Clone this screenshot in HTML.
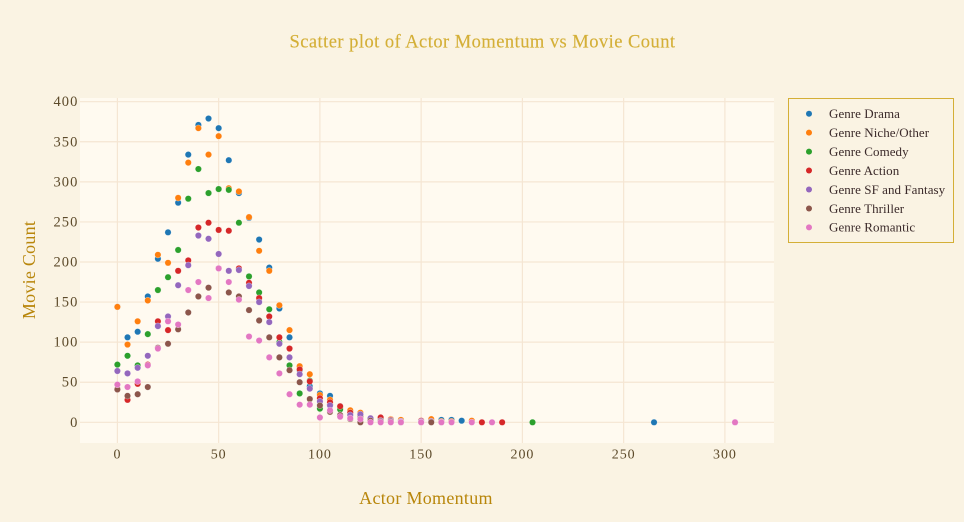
<!DOCTYPE html>
<html lang="en">
<head>
<meta charset="utf-8">
<title>Scatter plot of Actor Momentum vs Movie Count</title>
<style>
  html, body { margin: 0; padding: 0; background: #faf3e3; }
  #chart { display: block; width: 964px; height: 522px; font-family: "Liberation Serif", serif; }
</style>
</head>
<body>
<svg id="chart" xmlns="http://www.w3.org/2000/svg" width="964" height="522" viewBox="0 0 964 522">
  <rect x="0" y="0" width="964" height="522" fill="#faf3e3"></rect>
  <rect x="80" y="98" width="694" height="345" fill="#fffaf0"></rect>
  <g id="grid"></g>
  <g id="xticks"></g>
  <g id="yticks"></g>
  <g id="marks"></g>
  <text x="482.5" y="47.5" text-anchor="middle" font-size="18.5" letter-spacing="0.46" fill="#d4af37" stroke="#d4af37" stroke-width="0.15">Scatter plot of Actor Momentum vs Movie Count</text>
  <text x="426" y="504" text-anchor="middle" font-size="18" letter-spacing="0.3" fill="#b8860b">Actor Momentum</text>
  <text transform="translate(35 270) rotate(-90)" text-anchor="middle" font-size="18" letter-spacing="0.25" fill="#b8860b">Movie Count</text>
  <rect x="788.5" y="98.5" width="165" height="144" fill="#faf3e3" stroke="#d4af37" stroke-width="1"></rect>
  <g id="legend"></g>
</svg>
<script>
const xTickValues = [0, 50, 100, 150, 200, 250, 300];
const yTickValues = [0, 50, 100, 150, 200, 250, 300, 350, 400];

const seriesNames = ["Genre Drama", "Genre Niche/Other", "Genre Comedy", "Genre Action", "Genre SF and Fantasy", "Genre Thriller", "Genre Romantic"];
const seriesColors = ["#1f77b4", "#ff7f0e", "#2ca02c", "#d62728", "#9467bd", "#8c564b", "#e377c2"];

const baseMomentum = [0, 5, 10, 15, 20, 25, 30, 35, 40, 45, 50, 55, 60, 65, 70, 75, 80, 85, 90, 95, 100, 105, 110, 115, 120, 125, 130, 135, 140];

const dramaX = baseMomentum.concat([150, 155, 160, 165, 170, 175, 265]);
const dramaY = [144, 106, 113, 157, 204, 237, 274, 334, 371, 379, 367, 327, 286, 255, 228, 193, 142, 106, 65, 45, 36, 33, 20, 12, 8, 5, 5, 3, 1, 1, 2, 3, 3, 2, 1, 0];

const nicheX = baseMomentum.concat([150, 155, 160, 165, 175]);
const nicheY = [144, 97, 126, 152, 209, 199, 280, 324, 367, 334, 357, 292, 288, 256, 214, 189, 146, 115, 70, 60, 34, 28, 18, 15, 12, 4, 3, 4, 3, 1, 4, 1, 1, 2];

const comedyX = baseMomentum.concat([150, 205]);
const comedyY = [72, 83, 71, 110, 165, 181, 215, 279, 316, 286, 291, 290, 249, 182, 162, 141, 100, 71, 36, 52, 17, 22, 16, 10, 7, 5, 4, 3, 1, 1, 0];

const actionX = baseMomentum.concat([150, 155, 180, 190]);
const actionY = [41, 28, 48, 72, 126, 115, 189, 202, 243, 249, 240, 239, 192, 174, 155, 132, 106, 92, 66, 51, 30, 25, 20, 12, 9, 5, 6, 3, 1, 2, 1, 0, 0];

const fantasyX = baseMomentum.concat([150, 155, 305]);
const fantasyY = [64, 61, 68, 83, 120, 132, 171, 196, 233, 229, 210, 189, 190, 170, 150, 125, 98, 81, 60, 42, 26, 21, 9, 9, 10, 5, 2, 2, 1, 1, 1, 0];

const thrillerX = baseMomentum.concat([150, 155, 160]);
const thrillerY = [41, 33, 35, 44, 93, 98, 116, 137, 157, 168, 192, 162, 157, 140, 127, 106, 81, 65, 50, 29, 21, 13, 9, 4, 0, 2, 1, 1, 0, 0, 0, 0];

const romanticX = baseMomentum.concat([150, 160, 165, 175, 185, 305]);
const romanticY = [47, 44, 51, 71, 92, 126, 122, 165, 175, 155, 192, 175, 153, 107, 102, 81, 61, 35, 22, 22, 6, 15, 7, 5, 4, 0, 0, 0, 0, 0, 0, 0, 0, 0, 0];

const seriesXValues = [dramaX, nicheX, comedyX, actionX, fantasyX, thrillerX, romanticX];
const seriesYValues = [dramaY, nicheY, comedyY, actionY, fantasyY, thrillerY, romanticY];

const SVG_NS = "http://www.w3.org/2000/svg";
function xScale(v) { return 117.4 + v * 2.025; }
function yScale(v) { return 422.3 - v * 0.8015; }
function make(tag, attrs, parent) {
  const el = document.createElementNS(SVG_NS, tag);
  for (const k in attrs) el.setAttribute(k, attrs[k]);
  parent.appendChild(el);
  return el;
}
function slug(s) { return s.toLowerCase().replace(/[^a-z0-9]+/g, "-"); }

const grid = document.getElementById("grid");
const xticks = document.getElementById("xticks");
const yticks = document.getElementById("yticks");
const marks = document.getElementById("marks");
const legend = document.getElementById("legend");

xTickValues.forEach(function (t) {
  const line = make("line", { x1: xScale(t), x2: xScale(t), y1: 98, y2: 443, stroke: "#f5e6d3", "stroke-width": 1.2 }, grid);
  
  
  const label = make("text", { x: xScale(t), y: 458.5, "text-anchor": "middle", "font-size": 14, "letter-spacing": 0.9, fill: "#5c4a2a" }, xticks);
  label.textContent = String(t);
  
  
});

yTickValues.forEach(function (t) {
  const line = make("line", { x1: 80, x2: 774, y1: yScale(t), y2: yScale(t), stroke: "#f5e6d3", "stroke-width": 1.2 }, grid);
  
  
  const label = make("text", { x: 78.5, y: yScale(t) + 4.5, "text-anchor": "end", "font-size": 14.5, "letter-spacing": 1.1, fill: "#5c4a2a" }, yticks);
  label.textContent = String(t);
  
  
});

seriesNames.forEach(function (name, s) {
  const group = make("g", { fill: seriesColors[s] }, marks);
  
  
  const xs = seriesXValues[s];
  const ys = seriesYValues[s];
  xs.forEach(function (x, i) {
    const pt = make("circle", { cx: xScale(x), cy: yScale(ys[i]), r: 3.2, stroke: "#ffffff", "stroke-opacity": 0.6, "stroke-width": 0.5 }, group);
    
    
  });

  const rowY = 113.7 + s * 18.95;
  const entry = make("g", {}, legend);
  
  
  const dot = make("circle", { cx: 809, cy: rowY, r: 3, fill: seriesColors[s] }, entry);
  
  
  const text = make("text", { x: 829, y: rowY + 4.3, "font-size": 13, "letter-spacing": 0.05, fill: "#3b2a2a" }, entry);
  text.textContent = name;
  
  
});
</script>
</body>
</html>
